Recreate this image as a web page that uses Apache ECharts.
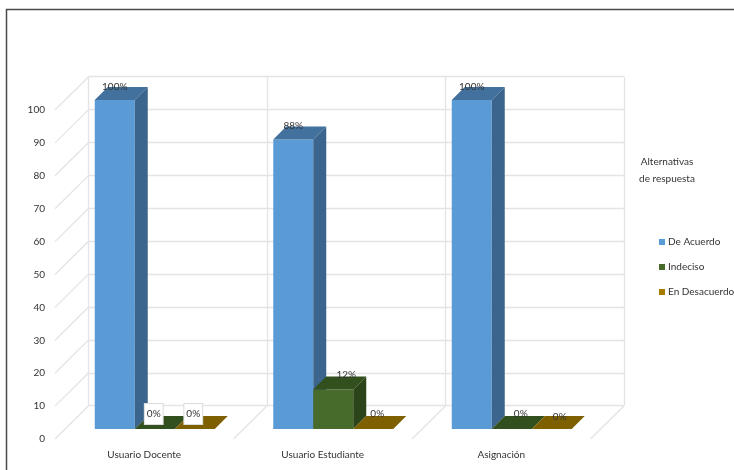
<!DOCTYPE html>
<html><head><meta charset="utf-8">
<style>html,body{margin:0;padding:0;background:#fff}#c{width:734px;height:470px;filter:blur(0.45px)}</style>
<script src="https://cdn.jsdelivr.net/npm/echarts@6/dist/echarts.min.js"></script>
</head><body><div id="c"></div>
<script>
const categories = ['Usuario Docente', 'Usuario Estudiante', 'Asignación'];
const seriesNames = ['De Acuerdo', 'Indeciso', 'En Desacuerdo'];
const deAcuerdo = [100, 88, 100];
const indeciso = [0, 12, 0];
const enDesacuerdo = [0, 0, 0];
const yTicks = [0, 10, 20, 30, 40, 50, 60, 70, 80, 90, 100];
const legendTitle = 'Alternativas\nde respuesta';

const FONT = 'Lato,"Liberation Sans",sans-serif';
const TXT = '#333', WALL = '#e4e4e4';
const WALL_DX = 33.6, WALL_DY = 33.3, INSET = 10, BAR_W = 40, DEPTH = 13;
const palette = [
  {front: '#5b9bd5', side: '#3b658c', top: '#41719c', legend: '#5b9bd5'},
  {front: '#466b2b', side: '#2c4419', top: '#324f1e', legend: '#466b2b'},
  {front: '#9c7500', side: '#5e4700', top: '#7f6000', legend: '#a67c00'}
];
// label nudges per [series][category]: [dx, dy from the bar's top-front edge], boxed flag
const labelStyle = [
  [[0, -13, false], [0, -14, false], [0, -13, false]],
  [[-1, -15, true], [13, -15, false], [9, -15, false]],
  [[-1.5, -15, true], [4, -15, false], [8, -12, false]]
];

function barSeries(name, values, s) {
  return {
    type: 'custom', name, xAxisIndex: 0, yAxisIndex: 0, z: 5 + s,
    itemStyle: {color: palette[s].legend},
    encode: {x: 0, y: 1},
    data: values.map((v, i) => [categories[i], v]),
    renderItem(params, api) {
      const c = palette[s];
      const cat = params.dataIndex;
      const val = api.value(1);
      const top = api.coord([cat, val]);
      const base = api.coord([cat, 0]);
      const x0 = top[0] - BAR_W * 1.5 + 10.5 + s * BAR_W;
      const x1 = x0 + BAR_W;
      const yb = base[1] - INSET;
      const yt = top[1] - INSET;
      const children = [];
      if (val > 0) {
        children.push({type: 'polygon', shape: {points: [[x0, yb], [x1, yb], [x1, yt], [x0, yt]]}, style: {fill: c.front}});
        children.push({type: 'polygon', shape: {points: [[x1, yb], [x1 + DEPTH, yb - DEPTH], [x1 + DEPTH, yt - DEPTH], [x1, yt]]}, style: {fill: c.side}});
      }
      children.push({type: 'polygon', shape: {points: [[x0, yt], [x1, yt], [x1 + DEPTH, yt - DEPTH], [x0 + DEPTH, yt - DEPTH]]}, style: {fill: c.top}});
      const [dx, dy, boxed] = labelStyle[s][cat];
      const textStyle = {
        text: val + '%', x: (x0 + x1) / 2 + dx, y: yt + dy,
        align: 'center', verticalAlign: 'middle',
        font: '10px ' + FONT, fill: '#333'
      };
      if (boxed) Object.assign(textStyle, {backgroundColor: '#fff', borderColor: '#dcdcdc', borderWidth: 1, padding: [5, 2, 5, 2]});
      children.push({type: 'text', z2: 100, style: textStyle});
      return {type: 'group', children};
    }
  };
}

const option = {
  animation: false,
  backgroundColor: '#fff',
  textStyle: {fontFamily: FONT},
  title: {
    text: legendTitle, left: 662, top: 148, textAlign: 'center',
    textStyle: {fontSize: 10, fontWeight: 'normal', color: TXT, lineHeight: 17, fontFamily: FONT}
  },
  legend: {
    data: seriesNames.map(name => ({name, icon: 'rect'})),
    orient: 'vertical', left: 659, top: 236, itemWidth: 6, itemHeight: 6, itemGap: 13, padding: 0,
    textStyle: {fontSize: 10, color: TXT, padding: [0, 0, 0, -2], lineHeight: 12, fontFamily: FONT},
    selectedMode: false
  },
  grid: [
    {left: 55, top: 110, width: 535.5, height: 329},
    {left: 88.6, top: 76.7, width: 535.5, height: 329}
  ],
  xAxis: [
    {type: 'category', gridIndex: 0, data: categories, axisLine: {show: false}, axisTick: {show: false},
     splitLine: {show: false}, axisLabel: {margin: 11, fontSize: 10, color: TXT, fontFamily: FONT}},
    {type: 'category', gridIndex: 1, data: categories, axisLine: {show: false}, axisTick: {show: false},
     axisLabel: {show: false}, splitLine: {show: true, interval: 0, lineStyle: {color: WALL, width: 1.3}}}
  ],
  yAxis: [
    {type: 'value', gridIndex: 0, min: 0, max: 100, interval: 10, axisLine: {show: false}, axisTick: {show: false},
     splitLine: {show: false}, axisLabel: {margin: 10, fontSize: 10, color: TXT, fontFamily: FONT}},
    {type: 'value', gridIndex: 1, min: 0, max: 100, interval: 10, axisLine: {show: false}, axisTick: {show: false},
     axisLabel: {show: false}, splitLine: {show: true, lineStyle: {color: WALL, width: 1.3}}}
  ],
  graphic: [{
    type: 'polyline', silent: true, z: 20,
    shape: {points: [[6.5, 470], [6.5, 9.5], [734, 9.5]]},
    style: {fill: 'none', stroke: '#4a4a4a', lineWidth: 1.5}
  }],
  series: [
    {
      type: 'custom', name: 'wall-diagonals', xAxisIndex: 0, yAxisIndex: 0, silent: true, z: 1,
      encode: {x: 0, y: 1}, data: yTicks.map(t => [categories[0], t]),
      renderItem(params, api) {
        const y = api.coord([0, api.value(1)])[1];
        const x = params.coordSys.x;
        return {type: 'line', shape: {x1: x, y1: y, x2: x + WALL_DX, y2: y - WALL_DY}, style: {stroke: WALL, lineWidth: 1.3}};
      }
    },
    {
      type: 'custom', name: 'floor-diagonals', xAxisIndex: 0, yAxisIndex: 0, silent: true, z: 1,
      encode: {x: 0, y: 1}, data: categories.map(c => [c, 0]),
      renderItem(params, api) {
        const p = api.coord([params.dataIndex, 0]);
        const x = p[0] + api.size([1, 0])[0] / 2;
        return {type: 'line', shape: {x1: x, y1: p[1], x2: x + WALL_DX, y2: p[1] - WALL_DY}, style: {stroke: WALL, lineWidth: 1.3}};
      }
    },
    barSeries(seriesNames[0], deAcuerdo, 0),
    barSeries(seriesNames[1], indeciso, 1),
    barSeries(seriesNames[2], enDesacuerdo, 2)
  ]
};
echarts.init(document.getElementById('c')).setOption(option);
</script></body></html>
